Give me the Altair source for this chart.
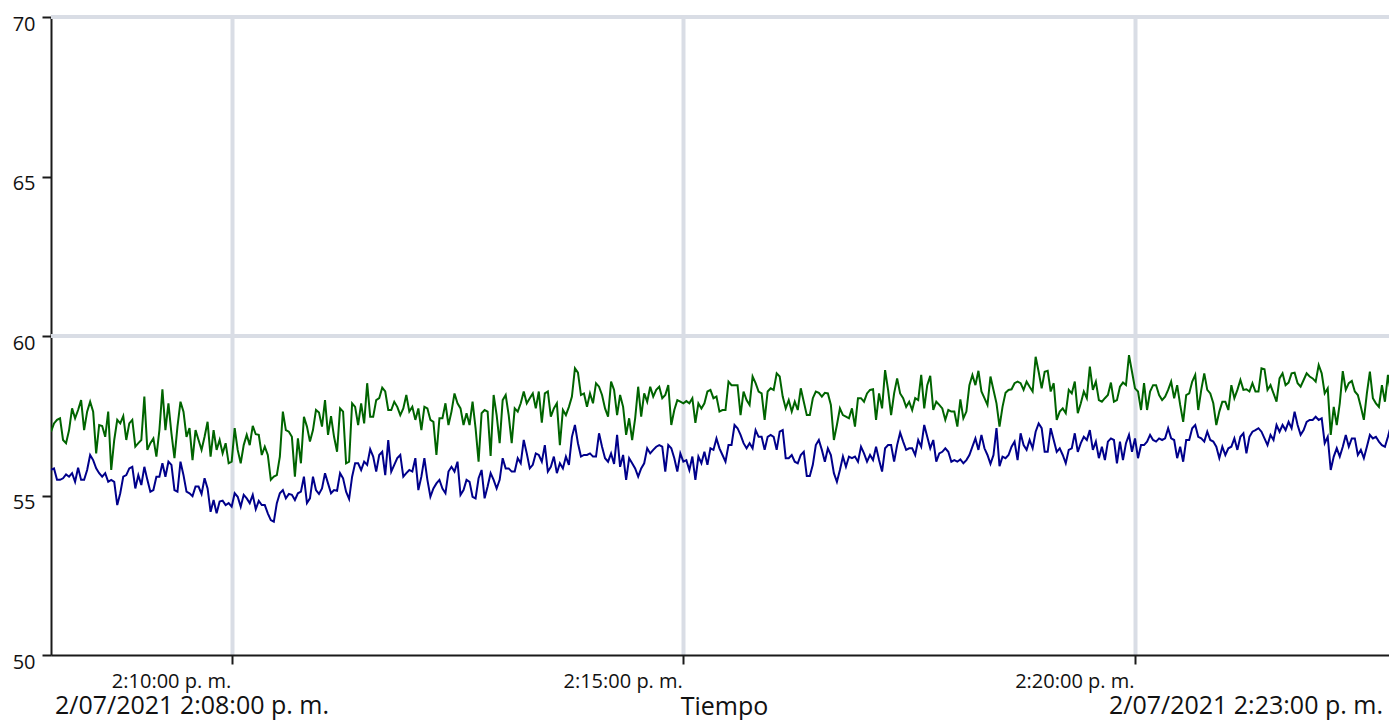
import altair as alt
import pandas as pd

# Series values (one reading every 2 s from 2:08:00 p. m.)
verde = [
    57.00, 57.26, 57.37, 57.42, 56.74, 56.64, 57.05, 57.73, 57.42, 57.68, 57.99, 57.05, 57.63, 57.94, 57.63, 56.32, 57.21, 57.18, 56.84, 57.63,
    55.80, 56.74, 57.37, 57.26, 57.49, 56.74, 57.26, 57.37, 56.53, 56.64, 56.74, 58.10, 56.43, 56.64, 56.79, 56.22, 57.05, 58.33, 57.05, 57.89,
    56.95, 56.17, 57.16, 57.94, 57.63, 56.84, 57.11, 56.11, 57.05, 56.74, 56.43, 56.84, 57.31, 56.22, 57.05, 56.43, 56.74, 56.32, 56.64, 56.01,
    56.06, 57.11, 56.43, 56.01, 56.58, 56.90, 56.58, 57.18, 56.92, 56.90, 56.27, 56.53, 56.27, 55.49, 55.59, 55.64, 56.22, 57.63, 57.05, 57.00,
    56.84, 55.59, 56.79, 56.01, 57.47, 57.16, 56.69, 57.05, 57.68, 57.60, 57.16, 57.99, 56.90, 57.49, 56.84, 56.37, 57.73, 57.63, 56.01, 56.06,
    57.89, 57.78, 57.21, 57.89, 57.26, 58.52, 57.47, 57.47, 57.99, 58.05, 58.38, 58.26, 57.68, 57.68, 57.94, 57.78, 57.52, 57.73, 58.15, 57.63,
    57.78, 57.37, 57.73, 57.05, 57.78, 57.73, 57.37, 57.31, 56.27, 57.42, 57.42, 57.89, 57.21, 57.63, 58.20, 57.89, 57.73, 57.21, 57.58, 57.21,
    57.94, 57.11, 56.06, 57.58, 57.68, 57.63, 56.24, 58.15, 57.52, 56.64, 57.99, 58.15, 57.52, 56.64, 57.73, 57.63, 57.89, 58.26, 57.89, 58.05,
    58.20, 57.73, 58.26, 57.28, 58.20, 58.26, 57.47, 57.73, 57.89, 56.58, 57.68, 57.52, 57.78, 58.10, 58.99, 58.85, 58.15, 58.20, 57.78, 58.20,
    57.89, 58.52, 58.41, 58.15, 57.73, 57.47, 58.57, 58.31, 57.52, 58.15, 57.78, 56.90, 57.42, 56.74, 57.42, 58.41, 57.47, 58.20, 57.94, 58.41,
    58.10, 58.31, 58.41, 58.05, 58.15, 58.46, 57.21, 57.68, 57.99, 57.94, 57.89, 57.96, 57.89, 58.05, 57.28, 57.89, 57.73, 57.89, 58.26, 58.31,
    58.05, 58.10, 57.63, 57.68, 57.68, 58.57, 58.46, 58.46, 58.46, 57.52, 58.26, 57.99, 57.84, 58.73, 58.52, 58.26, 58.20, 57.37, 58.26, 58.36,
    58.31, 58.83, 58.73, 58.10, 57.73, 57.99, 57.63, 57.94, 57.68, 58.36, 57.94, 57.52, 57.52, 58.05, 58.26, 58.22, 58.10, 58.22, 58.20, 57.84,
    56.74, 57.21, 57.73, 57.52, 57.47, 57.42, 57.73, 57.16, 58.05, 58.05, 57.94, 58.20, 58.31, 58.33, 57.37, 58.20, 57.73, 58.93, 58.31, 57.52,
    58.20, 58.67, 58.20, 58.05, 57.78, 57.94, 57.68, 58.05, 57.99, 58.78, 57.73, 58.46, 58.75, 57.68, 57.94, 57.84, 57.73, 57.37, 57.68, 57.63,
    57.63, 57.16, 58.01, 57.42, 57.63, 58.46, 58.78, 58.46, 58.91, 58.26, 58.05, 57.84, 58.73, 58.31, 57.89, 57.16, 57.78, 58.22, 58.31, 58.33,
    58.52, 58.57, 58.52, 58.31, 58.57, 58.41, 58.26, 59.35, 58.88, 58.36, 58.88, 58.91, 58.26, 58.52, 57.37, 57.63, 57.73, 57.58, 58.31, 58.20,
    58.57, 57.58, 57.89, 58.26, 58.05, 59.04, 58.31, 58.57, 57.99, 57.94, 58.05, 58.15, 58.54, 57.94, 57.99, 58.41, 58.54, 58.46, 59.40, 58.88,
    58.36, 58.26, 57.68, 58.52, 57.68, 58.26, 58.46, 58.46, 58.15, 57.99, 58.10, 58.31, 58.57, 58.05, 58.46, 57.84, 57.31, 58.15, 58.20, 58.57,
    58.78, 57.68, 58.31, 58.83, 58.31, 58.20, 57.89, 57.21, 57.63, 57.94, 57.94, 57.68, 58.46, 58.05, 58.31, 58.62, 58.31, 58.33, 58.26, 58.52,
    58.26, 58.26, 58.99, 58.96, 58.31, 58.46, 58.20, 57.94, 58.67, 58.83, 58.46, 58.54, 58.83, 58.85, 58.52, 58.41, 58.62, 58.83, 58.73, 58.67,
    58.57, 59.09, 58.83, 58.20, 58.36, 56.90, 57.78, 57.21, 57.89, 58.90, 58.31, 58.52, 58.59, 58.26, 58.15, 57.78, 57.37, 58.20, 58.88, 58.05,
    57.89, 57.78, 58.46, 57.94, 58.78, 58.20, 57.89, 58.52,
]

azul = [
    55.80, 55.85, 55.49, 55.49, 55.54, 55.66, 55.59, 55.70, 55.43, 55.87, 55.49, 55.49, 55.80, 56.27, 56.11, 55.85, 55.70, 55.59, 55.70, 55.43,
    55.49, 55.43, 54.70, 55.07, 55.59, 55.64, 55.85, 55.90, 55.22, 55.64, 55.33, 55.90, 55.49, 55.12, 55.17, 55.59, 55.59, 56.01, 55.59, 56.06,
    55.96, 55.17, 55.12, 56.06, 55.64, 55.12, 55.07, 54.98, 55.28, 55.28, 55.05, 55.54, 55.22, 54.49, 54.86, 54.44, 54.81, 54.84, 54.70, 54.76,
    54.65, 55.07, 54.96, 54.65, 55.02, 54.91, 54.76, 55.02, 54.57, 54.83, 54.70, 54.70, 54.44, 54.23, 54.18, 54.76, 55.07, 55.17, 54.91, 55.05,
    55.02, 54.86, 55.07, 55.12, 55.59, 54.76, 54.91, 55.59, 55.17, 55.05, 55.22, 55.70, 55.38, 55.07, 55.17, 55.15, 55.70, 55.54, 55.12, 54.89,
    55.59, 56.01, 56.01, 55.80, 56.06, 55.96, 56.45, 56.22, 55.75, 56.27, 56.37, 55.64, 56.74, 55.75, 55.96, 56.17, 56.27, 55.59, 55.70, 55.80,
    55.75, 56.17, 55.17, 55.59, 56.17, 55.49, 54.96, 55.22, 55.38, 55.49, 55.22, 55.07, 55.75, 55.90, 55.75, 56.06, 55.02, 55.17, 55.49, 55.43,
    54.96, 54.91, 55.54, 55.80, 54.91, 55.28, 55.70, 55.49, 55.22, 55.49, 56.17, 55.85, 55.85, 55.75, 55.75, 56.17, 56.01, 56.74, 56.32, 55.85,
    55.96, 56.32, 56.27, 56.06, 56.58, 55.75, 55.90, 56.22, 55.70, 56.01, 55.85, 56.22, 55.96, 56.84, 57.21, 56.64, 56.22, 56.27, 56.27, 56.32,
    56.22, 56.22, 56.95, 56.53, 56.17, 56.06, 56.32, 55.99, 56.90, 55.90, 56.27, 55.49, 56.17, 56.01, 55.85, 55.59, 55.85, 56.01, 56.48, 56.32,
    56.43, 56.53, 56.58, 56.53, 55.75, 56.58, 56.48, 56.17, 55.75, 56.32, 56.06, 56.11, 55.80, 56.22, 55.49, 56.22, 56.01, 56.37, 55.96, 56.48,
    56.43, 56.79, 56.48, 56.27, 56.06, 56.58, 56.58, 57.21, 57.11, 56.90, 56.64, 56.48, 56.64, 56.48, 57.05, 56.84, 56.84, 56.43, 56.84, 56.90,
    56.84, 56.43, 57.00, 57.05, 56.17, 56.17, 56.27, 56.06, 56.01, 56.27, 56.37, 55.61, 55.61, 55.96, 56.58, 56.74, 56.43, 56.06, 56.48, 56.27,
    55.70, 55.43, 55.80, 56.22, 55.90, 56.22, 56.17, 56.22, 56.06, 56.53, 56.32, 56.06, 56.27, 56.11, 56.53, 56.11, 55.75, 56.48, 56.58, 56.58,
    56.06, 56.58, 56.97, 56.69, 56.43, 56.48, 56.48, 56.27, 56.74, 56.53, 57.21, 56.84, 56.48, 56.74, 56.06, 56.32, 56.37, 56.48, 56.37, 56.06,
    56.11, 56.06, 56.13, 56.01, 56.11, 56.27, 56.53, 56.79, 56.43, 56.90, 56.48, 56.27, 55.99, 56.27, 57.11, 55.92, 56.22, 56.17, 56.27, 56.53,
    56.69, 56.11, 56.95, 56.58, 56.43, 56.74, 56.48, 57.00, 57.26, 57.11, 56.37, 56.37, 57.11, 56.74, 56.37, 56.48, 56.27, 56.01, 56.43, 56.48,
    56.95, 56.37, 56.64, 56.84, 56.74, 57.05, 56.43, 56.69, 56.17, 56.53, 56.11, 56.69, 56.79, 56.74, 56.01, 56.69, 56.11, 56.64, 56.90, 56.37,
    56.79, 56.17, 56.58, 56.58, 56.69, 56.90, 56.74, 56.69, 56.79, 56.74, 56.79, 57.11, 56.79, 56.74, 56.17, 56.53, 56.06, 56.74, 56.74, 57.11,
    57.21, 56.84, 56.79, 56.69, 57.00, 56.74, 56.69, 56.53, 56.17, 56.53, 56.27, 56.48, 56.53, 56.79, 56.43, 56.84, 56.95, 56.32, 56.84, 57.00,
    57.05, 57.11, 57.00, 56.79, 56.58, 56.90, 56.74, 57.21, 57.00, 57.21, 57.05, 57.31, 57.11, 57.63, 57.21, 56.90, 57.05, 57.31, 57.37, 57.37,
    57.47, 57.37, 57.42, 56.64, 56.84, 55.80, 56.22, 56.48, 56.22, 56.53, 56.90, 56.53, 56.79, 56.79, 56.27, 56.43, 56.17, 56.53, 56.90, 56.79,
    56.84, 56.69, 56.58, 56.53, 56.84, 57.21, 56.22, 56.64,
]

series_names = ["verde", "azul"]
series_colors = ["#006400", "#00008B"]
start_time = "2021-07-02 14:08:00"
step_seconds = 2

y_ticks = [50, 55, 60, 65, 70]
y_grid = [60, 70]
x_tick_times = ["2021-07-02 14:10:00", "2021-07-02 14:15:00", "2021-07-02 14:20:00"]
x_domain = ["2021-07-02 14:08:00", "2021-07-02 14:22:48.700"]
corner_labels = ["2/07/2021 2:08:00 p. m.", "2/07/2021 2:23:00 p. m."]
x_title = "Tiempo"


def iso(ts):
    return pd.Timestamp(ts).strftime("%Y-%m-%dT%H:%M:%S.%f")[:-3] + "Z"


def dt(ts):
    t = pd.Timestamp(ts)
    return alt.DateTime(year=t.year, month=t.month, date=t.day, hours=t.hour,
                        minutes=t.minute, seconds=t.second,
                        milliseconds=t.microsecond // 1000, utc=True)


rows = []
for name, vals in zip(series_names, [verde, azul]):
    times = pd.date_range(start=start_time, periods=len(vals), freq=f"{step_seconds}s")
    for t, v in zip(times, vals):
        rows.append({"t": t.strftime("%Y-%m-%dT%H:%M:%SZ"), "v": v, "serie": name})
df = pd.DataFrame(rows)

W, H = 1338, 638
FONT = "Open Sans"

x_scale = alt.Scale(type="utc", domain=[dt(x_domain[0]), dt(x_domain[1])])
y_scale = alt.Scale(domain=[50, 70], nice=False, zero=False)

x_axis = alt.Axis(
    values=[dt(v) for v in x_tick_times],
    labelExpr="utcFormat(datum.value, '%-I:%M:%S') + ' p. m.'",
    grid=True, gridColor="#d9dde5", gridWidth=4,
    domainColor="#1a1a1a", domainWidth=2,
    tickColor="#1a1a1a", tickWidth=2, tickSize=9,
    labelFont=FONT, labelFontSize=20, labelColor="#111111",
    labelAlign="right", labelBaseline="top", labelPadding=7, labelOffset=-1,
    labelFlush=False, labelOverlap=False,
    title=x_title, titleFont=FONT, titleFontSize=25, titleFontWeight="normal",
    titleColor="#111111", titleBaseline="alphabetic", titleY=59, titleX=673,
)
y_axis = alt.Axis(
    values=y_ticks, grid=False,
    domainColor="#1a1a1a", domainWidth=2,
    tickColor="#1a1a1a", tickWidth=2, tickSize=9,
    labelFont=FONT, labelFontSize=20, labelColor="#111111",
    labelBaseline="top", labelPadding=7, labelOffset=-3,
    title=None,
)

grid_df = pd.DataFrame({"g": y_grid})
grid = alt.Chart(grid_df).mark_rule(color="#d9dde5", strokeWidth=4).encode(
    y=alt.Y("g:Q", scale=y_scale, axis=y_axis)
)

lines = alt.Chart(df).mark_line(strokeWidth=2, clip=True).encode(
    x=alt.X("t:T", scale=x_scale, axis=x_axis),
    y=alt.Y("v:Q", scale=y_scale, axis=y_axis),
    color=alt.Color("serie:N", scale=alt.Scale(domain=series_names, range=series_colors), legend=None),
    detail="serie:N",
)

left_df = pd.DataFrame({"t": [iso(x_domain[0])], "label": [corner_labels[0]]})
right_df = pd.DataFrame({"t": [iso(x_domain[1])], "label": [corner_labels[1]]})

left_txt = alt.Chart(left_df).mark_text(
    align="left", baseline="alphabetic", font=FONT, fontSize=25, color="#111111", dx=4
).encode(x=alt.X("t:T", scale=x_scale), y=alt.value(H + 59), text="label:N")

right_txt = alt.Chart(right_df).mark_text(
    align="right", baseline="alphabetic", font=FONT, fontSize=25, color="#111111", dx=-6
).encode(x=alt.X("t:T", scale=x_scale), y=alt.value(H + 59), text="label:N")

chart = alt.layer(grid, lines, left_txt, right_txt).properties(
    width=W, height=H,
    autosize=alt.AutoSizeParams(type="none"),
    padding={"left": 43, "top": 9, "right": 0, "bottom": 66},
    background="white",
).configure_view(stroke=None)

chart.save("out.html", embed_options={"renderer": "svg", "actions": False})
